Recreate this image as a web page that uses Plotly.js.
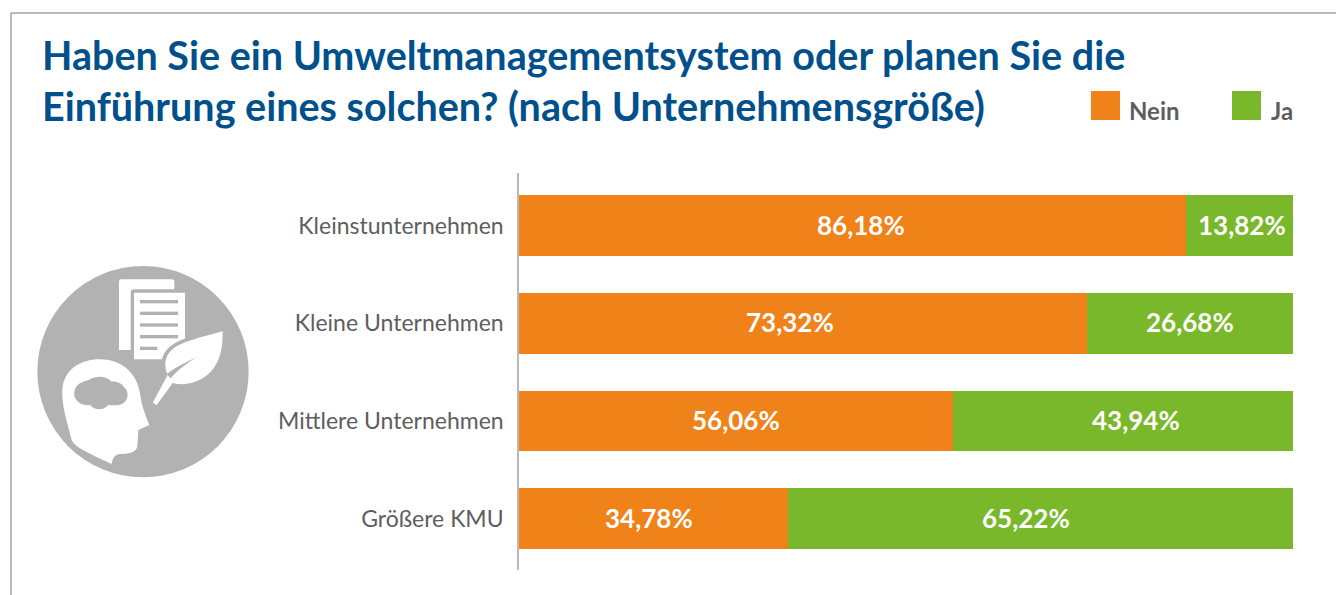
<!DOCTYPE html>
<html><head><meta charset="utf-8">
<script src="https://cdn.plot.ly/plotly-3.0.1.min.js"></script>
<style>html,body{margin:0;padding:0;background:#fff;overflow:hidden}</style>
</head><body><div id="chart" style="width:1336px;height:595px"></div>
<script>
const categories = ["Kleinstunternehmen","Kleine Unternehmen","Mittlere Unternehmen","Größere KMU"];
const nein = [86.18,73.32,56.06,34.78];
const ja = [13.82,26.68,43.94,65.22];
const neinLabelNudge = [8,-13,0,-5];
const jaLabelNudge = [2,0,13,-15];
const titleLines = ["Haben Sie ein Umweltmanagementsystem oder planen Sie die","Einführung eines solchen? (nach Unternehmensgröße)"];
const ORANGE="#f0821a", GREEN="#79b82a", BLUE="#00508c", GREY="#5e5e5e";
const W=1336,H=595,FONT="Lato, 'Open Sans', sans-serif";
const px=x=>x/W, py=y=>1-y/H;
const leaf="M668,243C610,262 545,272 515,300C492,322 492,350 503,375L458,458L470,465L518,399C565,412 625,390 650,340C668,305 668,270 668,243Z";
const icon=`<svg xmlns="http://www.w3.org/2000/svg" width="1336" height="595" viewBox="0 0 1336 595"><g transform="translate(0,250) scale(0.33333)">
<circle cx="429" cy="365" r="317" fill="#b2b2b2"/>
<path d="M365,88H515Q523,88 523,96V118H402Q392,118 392,128V300H357V96Q357,88 365,88Z" fill="#fff"/>
<path d="M402,128H555V328H402Z" fill="#fff"/>
<g fill="#b2b2b2"><rect x="420" y="150" width="114" height="10"/><rect x="420" y="185" width="114" height="10"/><rect x="420" y="220" width="114" height="10"/><rect x="420" y="255" width="114" height="10"/><rect x="420" y="290" width="52" height="10"/></g>
<path d="${leaf}" fill="#b2b2b2" stroke="#b2b2b2" stroke-width="22"/>
<path d="${leaf}" fill="#fff"/>
<path d="M500,372C530,350 560,335 590,322C560,340 535,358 512,385Z" fill="#b2b2b2"/>
<path d="M335,642C338,625 343,615 358,612C385,612 410,608 412,588L415,540L448,525C438,500 425,470 420,430C410,365 360,328 300,328C240,328 190,360 187,420C185,470 200,510 215,570C225,590 245,600 335,642Z" fill="#fff"/>
<path d="M240,400C250,395 262,392 270,388C290,375 320,378 335,395C345,392 365,398 372,412C385,420 388,445 372,458C355,470 335,465 325,465C310,482 285,482 270,465C255,468 235,462 228,448C218,435 222,410 240,400Z" fill="#b2b2b2"/>
</g></svg>`;
const common={type:"bar",orientation:"h",y:categories,textposition:"none",cliponaxis:false,hoverinfo:"skip"};
const traces=[{...common,name:"Nein",x:nein,marker:{color:ORANGE}},{...common,name:"Ja",x:ja,marker:{color:GREEN}}];
const fmt=v=>v.toFixed(2).replace(".",",")+"%";
const barLabel=(v,center,cat,shift)=>({text:fmt(v),x:center,y:cat,xref:"x",yref:"y",xanchor:"center",yanchor:"middle",xshift:shift,yshift:1,showarrow:false,font:{family:FONT,size:26,color:"#fff",weight:700}});
const barLabels=categories.flatMap((c,i)=>[barLabel(nein[i],nein[i]/2,c,neinLabelNudge[i]),barLabel(ja[i],nein[i]+ja[i]/2,c,jaLabelNudge[i])]);
const layout={width:W,height:H,margin:{l:0,r:0,t:0,b:0,pad:0},paper_bgcolor:"#fff",plot_bgcolor:"#fff",barmode:"stack",bargap:0.378,showlegend:false,separators:",.",
  title:{text:titleLines.join("<br>"),font:{family:FONT,size:39.5,color:BLUE,weight:700},x:px(42),xanchor:"left",xref:"paper",y:py(70),yanchor:"top",automargin:false},
  font:{family:FONT},
  xaxis:{domain:[px(519),px(1293)],range:[0,100],visible:false,fixedrange:true},
  yaxis:{domain:[py(570),py(173)],type:"category",range:[3.526,-0.54],tickfont:{family:FONT,size:23,color:GREY},ticks:"",ticklabelstandoff:9,showgrid:false,zeroline:false,showline:true,linecolor:"#b9b9b9",linewidth:1.5,fixedrange:true},
  images:[{source:"data:image/svg+xml;charset=utf-8,"+encodeURIComponent(icon),xref:"paper",yref:"paper",x:0,y:1,sizex:1,sizey:1,xanchor:"left",yanchor:"top",sizing:"stretch",layer:"below"}],
  shapes:[
   {type:"line",xref:"paper",yref:"paper",x0:px(11),x1:px(11),y0:0,y1:py(13),line:{color:"#a3a3a3",width:1.5}},
   {type:"line",xref:"paper",yref:"paper",x0:px(11),x1:1,y0:py(13),y1:py(13),line:{color:"#a3a3a3",width:1.5}},
   {type:"rect",xref:"paper",yref:"paper",x0:px(1091),x1:px(1120),y0:py(120),y1:py(91),fillcolor:ORANGE,line:{width:0}},
   {type:"rect",xref:"paper",yref:"paper",x0:px(1232),x1:px(1261),y0:py(120),y1:py(91),fillcolor:GREEN,line:{width:0}}
  ],
  annotations:[
   {text:traces[0].name,xref:"paper",yref:"paper",x:px(1127),y:py(110),xanchor:"left",yanchor:"middle",showarrow:false,font:{family:FONT,size:24,color:GREY,weight:700}},
   {text:traces[1].name,xref:"paper",yref:"paper",x:px(1269),y:py(110),xanchor:"left",yanchor:"middle",showarrow:false,font:{family:FONT,size:24,color:GREY,weight:700}},
   ...barLabels
  ]};
Plotly.newPlot("chart",traces,layout,{displayModeBar:false,responsive:false});
</script></body></html>
